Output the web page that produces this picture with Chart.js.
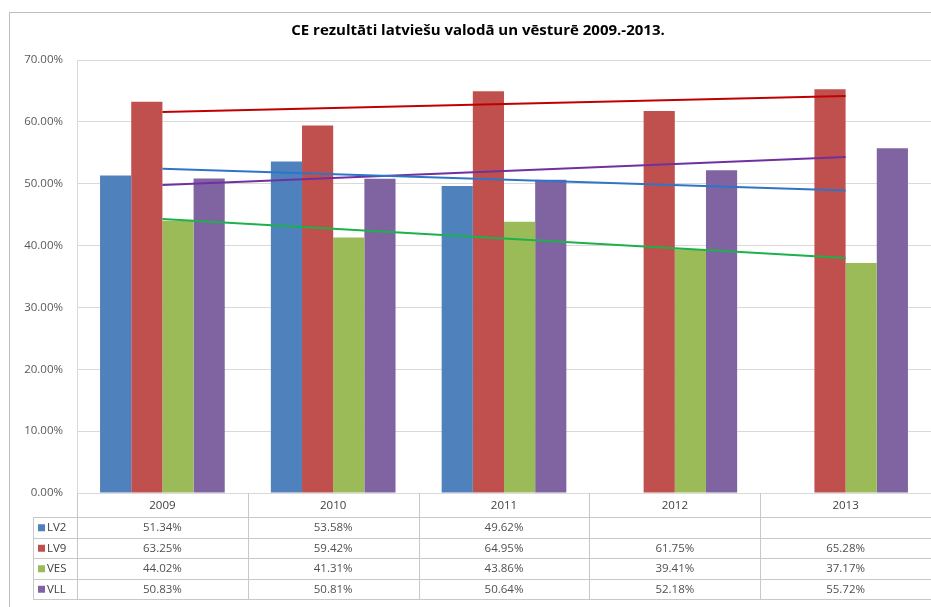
<!DOCTYPE html>
<html lang="lv">
<head>
<meta charset="UTF-8">
<title>CE rezultāti latviešu valodā un vēsturē 2009.-2013.</title>
<script src="https://cdn.jsdelivr.net/npm/chart.js"></script>
<style>
  html, body { margin: 0; padding: 0; background: #fff; overflow: hidden; }
  #wrap { width: 931px; height: 607px; }
  canvas { display: block; }
</style>
</head>
<body>
<div id="wrap"><canvas id="ceChart" width="931" height="607"></canvas></div>
<script>
// data (percent)
const years = ['2009', '2010', '2011', '2012', '2013'];
const seriesNames = ['LV2', 'LV9', 'VES', 'VLL'];
const lv2 = [51.34, 53.58, 49.62, null, null];
const lv9 = [63.25, 59.42, 64.95, 61.75, 65.28];
const ves = [44.02, 41.31, 43.86, 39.41, 37.17];
const vll = [50.83, 50.81, 50.64, 52.18, 55.72];
// linear trendlines, start (2009) and end (2013) values
const lv2Trend = [52.4, null, null, null, 48.9];
const lv9Trend = [61.6, null, null, null, 64.2];
const vesTrend = [44.3, null, null, null, 38.0];
const vllTrend = [49.8, null, null, null, 54.3];
const yTicks = [0, 10, 20, 30, 40, 50, 60, 70];

const title = 'CE rezultāti latviešu valodā un vēsturē 2009.-2013.';
const barColors = ['#4F81BD', '#C0504D', '#9BBB59', '#8064A2'];
const trendColors = ['#2E75C8', '#C00000', '#1DB14B', '#7030A0'];
const fontFam = '"Open Sans", Lato, sans-serif';
const gridCol = '#d9d9d9';
const tableCol = '#c8c8c8';

const seriesData = [lv2, lv9, ves, vll];
const trendData = [lv2Trend, lv9Trend, vesTrend, vllTrend];

const fmt = v => (v === null || v === undefined) ? '' : v.toFixed(2) + '%';

// title, outer border and the data table under the plot
const frameAndTable = {
    id: 'frameAndTable',
    beforeDraw(chart) {
        const c = chart.ctx;
        c.save();
        c.fillStyle = '#fff';
        c.fillRect(0, 0, chart.width, chart.height);
        c.strokeStyle = '#bdbdbd';
        c.lineWidth = 1;
        c.strokeRect(9.5, 12.5, chart.width, chart.height);
        c.fillStyle = '#000';
        c.font = 'bold 15px ' + fontFam;
        c.textAlign = 'center';
        c.textBaseline = 'middle';
        c.fillText(title, 478, 31);
        c.restore();
    },
    afterDraw(chart) {
        const c = chart.ctx;
        const area = chart.chartArea;
        const xs = chart.scales.x;
        const top = area.bottom;
        const headH = 24;
        const rowH = 20.5;
        const legL = 33;
        const bottom = top + headH + rowH * seriesNames.length;
        const catW = (area.right - area.left) / years.length;
        c.save();
        c.strokeStyle = tableCol;
        c.lineWidth = 1;
        c.beginPath();
        // vertical lines
        for (let i = 0; i <= years.length; i++) {
            const x = Math.round(area.left + i * catW) + 0.5;
            c.moveTo(x, top);
            c.lineTo(x, bottom);
        }
        c.moveTo(legL + 0.5, top + headH);
        c.lineTo(legL + 0.5, bottom);
        // horizontal lines
        for (let r = 0; r <= seriesNames.length; r++) {
            const y = Math.round(top + headH + r * rowH) + 0.5;
            c.moveTo(legL, y);
            c.lineTo(area.right, y);
        }
        c.stroke();

        c.font = '11.5px ' + fontFam;
        c.textBaseline = 'middle';
        c.textAlign = 'center';
        c.fillStyle = '#404040';
        years.forEach((yr, i) => {
            c.fillText(yr, xs.getPixelForValue(i), top + headH / 2 + 1);
        });
        seriesNames.forEach((name, r) => {
            const yMid = top + headH + r * rowH + rowH / 2 + 0.5;
            c.fillStyle = barColors[r];
            c.fillRect(legL + 5, yMid - 3.5, 7, 7);
            c.fillStyle = '#404040';
            c.textAlign = 'left';
            c.fillText(name, legL + 14, yMid);
            c.textAlign = 'center';
            c.fillStyle = '#505050';
            seriesData[r].forEach((v, i) => {
                c.fillText(fmt(v), xs.getPixelForValue(i), yMid);
            });
        });
        c.restore();
    }
};

const datasets = [];
seriesNames.forEach((name, i) => {
    datasets.push({
        type: 'bar',
        label: name,
        data: seriesData[i],
        backgroundColor: barColors[i],
        borderWidth: 0,
        categoryPercentage: 0.73,
        barPercentage: 1.0,
        order: 2
    });
});
seriesNames.forEach((name, i) => {
    datasets.push({
        type: 'line',
        label: 'Lineārs (' + name + ')',
        data: trendData[i],
        borderColor: trendColors[i],
        borderWidth: 2,
        pointRadius: 0,
        spanGaps: true,
        fill: false,
        order: 1
    });
});

new Chart(document.getElementById('ceChart'), {
    type: 'bar',
    data: { labels: years, datasets: datasets },
    options: {
        responsive: false,
        animation: false,
        layout: { padding: { top: 60, right: 0, bottom: 114, left: 0 } },
        plugins: {
            legend: { display: false },
            title: { display: false },
            tooltip: { enabled: false }
        },
        scales: {
            x: {
                display: false,
                offset: true,
                grid: { display: false }
            },
            y: {
                min: 0,
                max: 70,
                afterFit(axis) { axis.width = 77; },
                afterBuildTicks(axis) { axis.ticks = yTicks.map(v => ({ value: v })); },
                border: { display: true, color: gridCol },
                grid: { color: gridCol, drawTicks: false },
                ticks: {
                    padding: 14,
                    color: '#595959',
                    font: { family: fontFam, size: 11.5 },
                    callback: v => v.toFixed(2) + '%'
                }
            }
        }
    },
    plugins: [frameAndTable]
});
</script>
</body>
</html>
